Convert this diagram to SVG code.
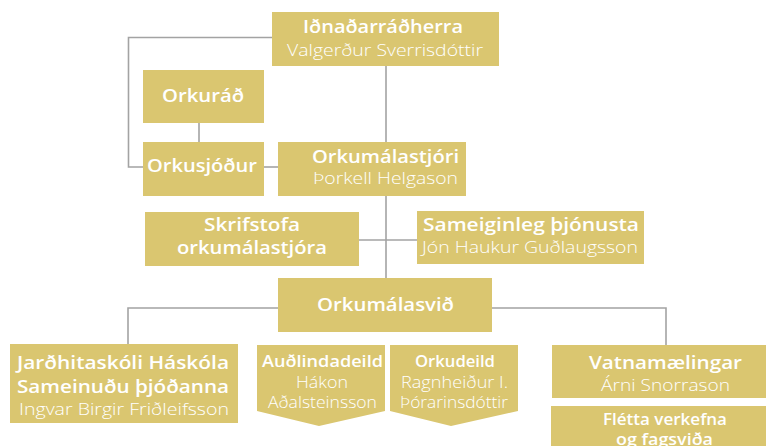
<svg xmlns="http://www.w3.org/2000/svg" width="766" height="446" viewBox="0 0 766 446">
<style>
.box{fill:#dac670}
.ln{stroke:#a3a3a3;stroke-width:1.6;fill:none}
text{fill:#ffffff;font-family:"Open Sans","DejaVu Sans",sans-serif;text-anchor:middle}
.h{font-weight:600;font-size:18px}
.n{font-weight:300;font-size:16.5px}
.hs{font-weight:600;font-size:15.5px}
.ns{font-weight:300;font-size:15.5px}
</style>
<rect width="766" height="446" fill="#ffffff"/>
<g id="connectors">
<polyline class="ln" points="272,37.5 128.5,37.5 128.5,167 143,167"/>
<line class="ln" x1="199" y1="123" x2="199" y2="142"/>
<line class="ln" x1="264" y1="167" x2="278" y2="167"/>
<line class="ln" x1="386" y1="66" x2="386" y2="278"/>
<line class="ln" x1="359" y1="240" x2="417" y2="240"/>
<polyline class="ln" points="128,344 128,308 666,308 666,345"/>
</g>
<g id="n-idnadarradherra">
<rect class="box" x="272" y="12" width="227" height="54"/>
<text class="h" x="383" y="33" textLength="160" lengthAdjust="spacingAndGlyphs">Iðnaðarráðherra</text>
<text class="n" x="385" y="56" textLength="196" lengthAdjust="spacingAndGlyphs">Valgerður Sverrisdóttir</text>
</g>
<g id="n-orkurad">
<rect class="box" x="143" y="70" width="121" height="53"/>
<text class="h" x="203" y="102" textLength="82" lengthAdjust="spacingAndGlyphs">Orkuráð</text>
</g>
<g id="n-orkusjodur">
<rect class="box" x="143" y="142" width="121" height="54"/>
<text class="h" x="202" y="172" textLength="110" lengthAdjust="spacingAndGlyphs">Orkusjóður</text>
</g>
<g id="n-orkumalastjori">
<rect class="box" x="278" y="142" width="188" height="54"/>
<text class="h" x="385.5" y="163" textLength="147" lengthAdjust="spacingAndGlyphs">Orkumálastjóri</text>
<text class="n" x="385.5" y="184" textLength="145" lengthAdjust="spacingAndGlyphs">Þorkell Helgason</text>
</g>
<g id="n-skrifstofa">
<rect class="box" x="145" y="212" width="214" height="54"/>
<text class="h" x="252" y="231" textLength="96" lengthAdjust="spacingAndGlyphs">Skrifstofa</text>
<text class="h" x="252" y="254" textLength="150" lengthAdjust="spacingAndGlyphs">orkumálastjóra</text>
</g>
<g id="n-sameiginleg">
<rect class="box" x="417" y="211" width="227" height="53"/>
<text class="h" x="531" y="231" textLength="216" lengthAdjust="spacingAndGlyphs">Sameiginleg þjónusta</text>
<text class="n" x="530" y="253" textLength="216" lengthAdjust="spacingAndGlyphs">Jón Haukur Guðlaugsson</text>
</g>
<g id="n-orkumalasvid">
<rect class="box" x="278" y="278" width="214" height="54"/>
<text class="h" x="385.5" y="311" textLength="137" lengthAdjust="spacingAndGlyphs">Orkumálasvið</text>
</g>
<g id="n-jardhitaskoli">
<rect class="box" x="10" y="344" width="228" height="79"/>
<text class="h" x="123" y="369" textLength="212" lengthAdjust="spacingAndGlyphs">Jarðhitaskóli Háskóla</text>
<text class="h" x="123" y="393" textLength="212" lengthAdjust="spacingAndGlyphs">Sameinuðu þjóðanna</text>
<text class="n" x="124" y="415" textLength="210" lengthAdjust="spacingAndGlyphs">Ingvar Birgir Friðleifsson</text>
</g>
<g id="n-audlindadeild">
<polygon class="box" points="257,345 385,345 385,411 319,426 257,411"/>
<text class="hs" x="322.5" y="367" textLength="121" lengthAdjust="spacingAndGlyphs">Auðlindadeild</text>
<text class="ns" x="322" y="388" textLength="52" lengthAdjust="spacingAndGlyphs">Hákon</text>
<text class="ns" x="322.5" y="408" textLength="109" lengthAdjust="spacingAndGlyphs">Aðalsteinsson</text>
</g>
<g id="n-orkudeild">
<polygon class="box" points="390,345 518,345 518,411 451,426 390,411"/>
<text class="hs" x="455" y="367" textLength="80" lengthAdjust="spacingAndGlyphs">Orkudeild</text>
<text class="ns" x="454.5" y="388" textLength="107" lengthAdjust="spacingAndGlyphs">Ragnheiður I.</text>
<text class="ns" x="454" y="408" textLength="108" lengthAdjust="spacingAndGlyphs">Þórarinsdóttir</text>
</g>
<g id="n-vatnamaelingar">
<rect class="box" x="552" y="345" width="214" height="53"/>
<text class="h" x="665.5" y="369" textLength="153" lengthAdjust="spacingAndGlyphs">Vatnamælingar</text>
<text class="n" x="665.5" y="391" textLength="129" lengthAdjust="spacingAndGlyphs">Árni Snorrason</text>
</g>
<g id="n-fletta">
<rect class="box" x="551" y="406" width="215" height="40"/>
<text class="hs" x="665" y="425" textLength="124" lengthAdjust="spacingAndGlyphs">Flétta verkefna</text>
<text class="hs" x="664.5" y="445" textLength="97" lengthAdjust="spacingAndGlyphs">og fagsviða</text>
</g>
</svg>
